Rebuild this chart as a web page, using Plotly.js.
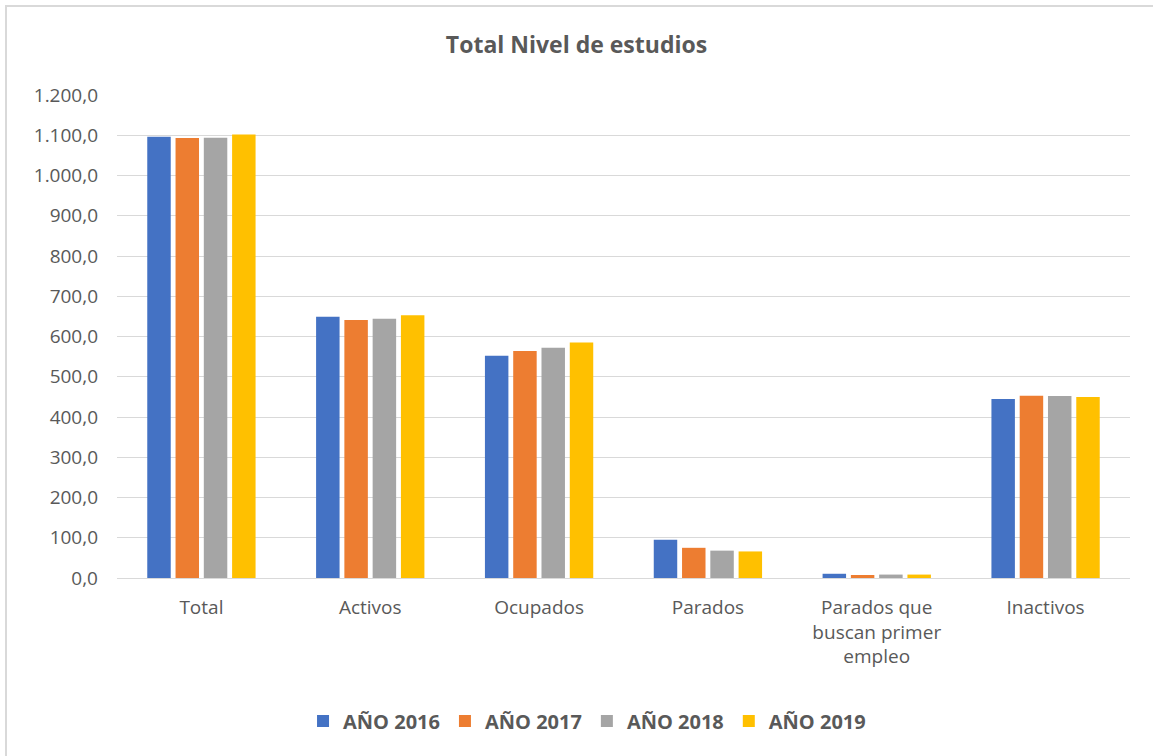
<!DOCTYPE html>
<html>
<head>
<meta charset="utf-8">
<script src="https://cdn.plot.ly/plotly-3.0.1.min.js"></script>
<style>
html,body{margin:0;padding:0;background:#fff;}
#chart{width:1153px;height:756px;position:relative;}
#frame{position:absolute;left:5px;top:5px;width:1160px;height:760px;border:2px solid #d9d9d9;pointer-events:none;box-sizing:border-box;}
</style>
</head>
<body>
<div id="chart"></div>
<div id="frame"></div>
<script>
var categories = ["Total", "Activos", "Ocupados", "Parados", "Parados que<br>buscan primer<br>empleo", "Inactivos"];
var seriesNames = ["AÑO 2016", "AÑO 2017", "AÑO 2018", "AÑO 2019"];
var values2016 = [1096, 649, 552, 95, 10.5, 445];
var values2017 = [1093, 641, 564, 75, 7.5, 453];
var values2018 = [1094, 644, 572, 68, 8.5, 452];
var values2019 = [1102, 653, 585, 66, 8.5, 450];
var colors = ["#4472c4", "#ed7d31", "#a5a5a5", "#ffc000"];
var tickVals = [0, 100, 200, 300, 400, 500, 600, 700, 800, 900, 1000, 1100, 1200];

var allValues = [values2016, values2017, values2018, values2019];
var data = allValues.map(function(v, i){
  return {
    type: "bar",
    name: seriesNames[i],
    x: categories,
    y: v,
    marker: {color: colors[i]},
    hoverinfo: "x+y+name"
  };
});

var font = "'Open Sans', sans-serif";
var layout = {
  width: 1153,
  height: 756,
  paper_bgcolor: "#ffffff",
  plot_bgcolor: "#ffffff",
  separators: ",.",
  margin: {l: 117, r: 23, t: 95, b: 178},
  barmode: "group",
  bargap: 0.33,
  bargroupgap: 0.17,
  font: {family: font, color: "#595959", size: 19},
  title: {
    text: "<b>Total Nivel de estudios</b>",
    font: {family: font, size: 23, color: "#595959"},
    x: 0.5, xanchor: "center",
    y: 0.94, yanchor: "middle"
  },
  xaxis: {
    type: "category",
    showgrid: false,
    showline: false,
    zeroline: false,
    ticks: "",
    ticklabelstandoff: 16,
    tickfont: {family: font, size: 19, color: "#595959"}
  },
  yaxis: {
    range: [0, 1200],
    tickvals: tickVals,
    tickformat: ",.1f",
    showgrid: true,
    gridcolor: "#d9d9d9",
    gridwidth: 1,
    zeroline: true,
    zerolinecolor: "#d9d9d9",
    zerolinewidth: 1,
    showline: false,
    ticks: "",
    ticklen: 0,
    ticklabelstandoff: 18,
    tickfont: {family: font, size: 19, color: "#595959"}
  },
  legend: {
    orientation: "h",
    x: 0.464, xanchor: "center",
    y: -0.296, yanchor: "middle",
    font: {family: font, size: 20, color: "#595959", weight: "bold"},
    itemwidth: 30,
    traceorder: "normal"
  },
  showlegend: true
};

Plotly.newPlot("chart", data, layout, {displayModeBar: false, staticPlot: true});
</script>
</body>
</html>
